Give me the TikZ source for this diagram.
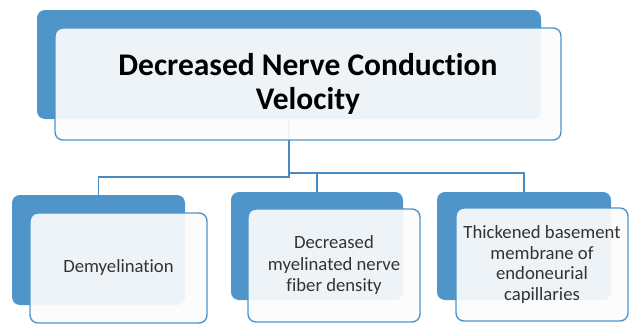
\documentclass[tikz,border=0pt]{standalone}
\usepackage{fontspec}
\setmainfont{Carlito}[Ligatures=NoCommon]

\definecolor{nodeblue}{RGB}{80,149,202}
\definecolor{edgeblue}{RGB}{72,138,194}

\begin{document}
\begin{tikzpicture}[x=1pt, y=-1pt,
    backbox/.style={fill=nodeblue, rounded corners=8pt, inner sep=0pt},
    frontbox/.style={draw=nodeblue, line width=1.4pt, fill=white!98!gray, fill opacity=0.92,
        text opacity=1, rounded corners=8pt, align=center, inner sep=0pt, text=black!80,
        font=\fontsize{18.7}{21.5}\selectfont},
    link/.style={draw=edgeblue, line width=1.4pt}]
    \useasboundingbox (0,0) rectangle (629,324);

    % Blue boxes behind
    \node[backbox, minimum width=504, minimum height=109] (topback) at (289,64.5) {};
    \node[backbox, minimum width=173, minimum height=110] (lback) at (98.5,250) {};
    \node[backbox, minimum width=172, minimum height=108] (mback) at (317,246) {};
    \node[backbox, minimum width=174, minimum height=108] (rback) at (524,246) {};

    % Connectors from the top box to the three boxes below
    \coordinate (lsplit) at (289,177);
    \coordinate (rsplit) at (289,173);
    \draw[link] (topback.south) -- (lsplit) -| (lback.north);
    \draw[link] (topback.south) -- (rsplit) -| (rback.north);
    \draw[link] (rsplit) -| (mback.north);

    % Front boxes with the texts
    \node[frontbox, minimum width=506, minimum height=112, text=black,
        font=\bfseries\fontsize{31.5}{34}\selectfont] (topfront) at (308,84)
        {Decreased Nerve Conduction\\Velocity};
    \node[frontbox, minimum width=177, minimum height=110] (lfront) at (118.5,268)
        {Demyelination};
    \node[frontbox, minimum width=172, minimum height=113] (mfront) at (334,265.5)
        {Decreased\\myelinated nerve\\fiber density};
    \node[frontbox, minimum width=172, minimum height=113,
        font=\fontsize{18.7}{20.5}\selectfont] (rfront) at (542,264.5)
        {Thickened basement\\membrane of\\endoneurial\\capillaries};
\end{tikzpicture}
\end{document}
